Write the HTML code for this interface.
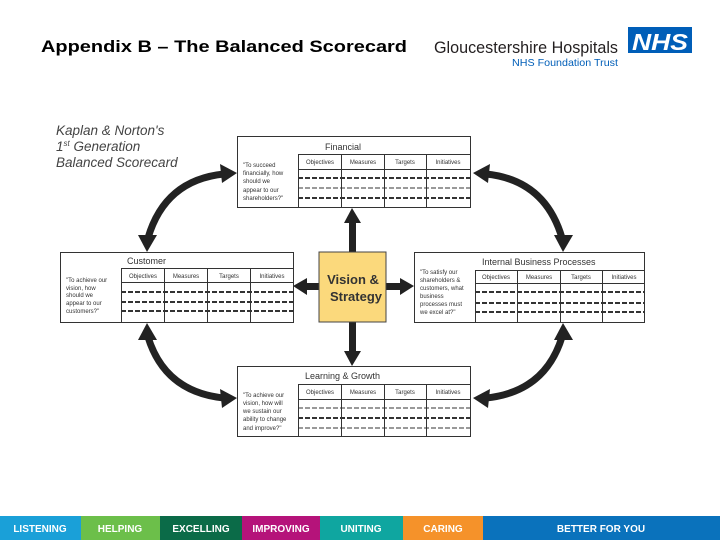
<!DOCTYPE html>
<html><head><meta charset="utf-8"><style>
html,body{margin:0;padding:0;background:#fff}
svg{display:block}
text{font-family:"Liberation Sans",Arial,sans-serif}
</style></head><body>
<svg width="720" height="540" viewBox="0 0 720 540" xmlns="http://www.w3.org/2000/svg">
<rect width="720" height="540" fill="#fff"/>
<text x="41" y="52" font-size="17" font-weight="bold" textLength="366" lengthAdjust="spacingAndGlyphs">Appendix B – The Balanced Scorecard</text>
<text x="434" y="53" font-size="17" fill="#231f20" textLength="184" lengthAdjust="spacingAndGlyphs">Gloucestershire Hospitals</text>
<text x="512" y="66" font-size="10.5" fill="#005eb8" textLength="106" lengthAdjust="spacingAndGlyphs">NHS Foundation Trust</text>
<rect x="628" y="27" width="64" height="26" fill="#005eb8"/>
<text x="660" y="50" font-size="23" font-weight="bold" font-style="italic" fill="#fff" text-anchor="middle" textLength="56" lengthAdjust="spacingAndGlyphs">NHS</text>

<g font-style="italic" font-size="13.5" fill="#444">
<text x="56" y="135">Kaplan &amp; Norton's</text>
<text x="56" y="151">1<tspan font-size="8" dy="-5">st</tspan><tspan dy="5"> Generation</tspan></text>
<text x="56" y="167">Balanced Scorecard</text>
</g>

<!-- curved arrows -->
<g fill="none" stroke="#222" stroke-width="7">
<path d="M224,174 Q165,180 148,238"/>
<path d="M486,174 Q545,180 562,238"/>
<path d="M148,337 Q165,392 224,398"/>
<path d="M562,337 Q545,392 486,398"/>
</g>
<g fill="#222">
<polygon points="237,173 220,164 222,183"/>
<polygon points="147,252 138,235 157,235"/>
<polygon points="473,173 490,164 488,183"/>
<polygon points="563,252 554,235 573,235"/>
<polygon points="147,323 138,340 157,340"/>
<polygon points="237,398 220,389 222,408"/>
<polygon points="563,323 554,340 573,340"/>
<polygon points="473,398 490,389 488,408"/>
</g>
<!-- central arrows -->
<g fill="#222">
<rect x="349" y="222" width="7" height="30"/>
<polygon points="352,208 344,223 361,223"/>
<rect x="349" y="322" width="7" height="30"/>
<polygon points="352,366 344,351 361,351"/>
<rect x="306" y="283" width="13" height="7"/>
<polygon points="293,286 307,278 307,295"/>
<rect x="386" y="283" width="14" height="7"/>
<polygon points="414,286 400,278 400,295"/>
</g>
<rect x="319" y="252" width="67" height="70" fill="#fbd97c" stroke="#444" stroke-width="1"/>
<text x="353" y="284" font-size="13" font-weight="bold" fill="#333" text-anchor="middle">Vision &amp;</text>
<text x="356" y="301" font-size="13" font-weight="bold" fill="#333" text-anchor="middle">Strategy</text>

<!-- Financial -->
<g stroke="#333" fill="none">
<rect x="237.5" y="136.5" width="233" height="71" fill="#fff"/>
<line x1="298" y1="154.5" x2="470" y2="154.5"/><line x1="298" y1="169.5" x2="470" y2="169.5"/>
<line x1="298.5" y1="154" x2="298.5" y2="208"/><line x1="341.5" y1="154" x2="341.5" y2="208"/><line x1="384.5" y1="154" x2="384.5" y2="208"/><line x1="426.5" y1="154" x2="426.5" y2="208"/>
<line x1="298" y1="178" x2="470" y2="178" stroke-width="2" stroke-dasharray="5,2"/>
<line x1="298" y1="188" x2="470" y2="188" stroke-dasharray="5,2"/>
<line x1="298" y1="198" x2="470" y2="198" stroke-width="2" stroke-dasharray="5,2"/>
</g>
<text x="325" y="150" font-size="9" fill="#333">Financial</text>
<g font-size="6" fill="#333" text-anchor="middle"><text x="320" y="164">Objectives</text><text x="363" y="164">Measures</text><text x="405" y="164">Targets</text><text x="448" y="164">Initiatives</text></g>
<g font-size="6" fill="#333"><text x="243" y="167">"To succeed</text><text x="243" y="175">financially, how</text><text x="243" y="183">should we</text><text x="243" y="192">appear to our</text><text x="243" y="200">shareholders?"</text></g>

<!-- Customer -->
<g stroke="#333" fill="none">
<rect x="60.5" y="252.5" width="233" height="70" fill="#fff"/>
<line x1="121" y1="268.5" x2="293" y2="268.5"/><line x1="121" y1="282.5" x2="293" y2="282.5"/>
<line x1="121.5" y1="268" x2="121.5" y2="323"/><line x1="164.5" y1="268" x2="164.5" y2="323"/><line x1="207.5" y1="268" x2="207.5" y2="323"/><line x1="250.5" y1="268" x2="250.5" y2="323"/>
<line x1="121" y1="292" x2="293" y2="292" stroke-width="2" stroke-dasharray="5,2"/>
<line x1="121" y1="302" x2="293" y2="302" stroke-width="2" stroke-dasharray="5,2"/>
<line x1="121" y1="311" x2="293" y2="311" stroke-width="2" stroke-dasharray="5,2"/>
</g>
<text x="127" y="264" font-size="9" fill="#333">Customer</text>
<g font-size="6" fill="#333" text-anchor="middle"><text x="143" y="278">Objectives</text><text x="186" y="278">Measures</text><text x="229" y="278">Targets</text><text x="272" y="278">Initiatives</text></g>
<g font-size="6" fill="#333"><text x="66" y="282">"To achieve our</text><text x="66" y="290">vision, how</text><text x="66" y="297">should we</text><text x="66" y="305">appear to our</text><text x="66" y="313">customers?"</text></g>

<!-- Internal -->
<g stroke="#333" fill="none">
<rect x="414.5" y="252.5" width="230" height="70" fill="#fff"/>
<line x1="475" y1="270.5" x2="645" y2="270.5"/><line x1="475" y1="283.5" x2="645" y2="283.5"/>
<line x1="475.5" y1="270" x2="475.5" y2="323"/><line x1="517.5" y1="270" x2="517.5" y2="323"/><line x1="560.5" y1="270" x2="560.5" y2="323"/><line x1="602.5" y1="270" x2="602.5" y2="323"/>
<line x1="475" y1="292" x2="645" y2="292" stroke-width="2" stroke-dasharray="5,2"/>
<line x1="475" y1="303" x2="645" y2="303" stroke-width="2" stroke-dasharray="5,2"/>
<line x1="475" y1="312" x2="645" y2="312" stroke-width="2" stroke-dasharray="5,2"/>
</g>
<text x="482" y="265" font-size="9" fill="#333">Internal Business Processes</text>
<g font-size="6" fill="#333" text-anchor="middle"><text x="496" y="279">Objectives</text><text x="539" y="279">Measures</text><text x="581" y="279">Targets</text><text x="624" y="279">Initiatives</text></g>
<g font-size="6" fill="#333"><text x="420" y="274">"To satisfy our</text><text x="420" y="282">shareholders &amp;</text><text x="420" y="290">customers, what</text><text x="420" y="298">business</text><text x="420" y="306">processes must</text><text x="420" y="314">we excel at?"</text></g>

<!-- Learning -->
<g stroke="#333" fill="none">
<rect x="237.5" y="366.5" width="233" height="70" fill="#fff"/>
<line x1="298" y1="384.5" x2="470" y2="384.5"/><line x1="298" y1="399.5" x2="470" y2="399.5"/>
<line x1="298.5" y1="384" x2="298.5" y2="437"/><line x1="341.5" y1="384" x2="341.5" y2="437"/><line x1="384.5" y1="384" x2="384.5" y2="437"/><line x1="426.5" y1="384" x2="426.5" y2="437"/>
<line x1="298" y1="408" x2="470" y2="408" stroke-dasharray="5,2"/>
<line x1="298" y1="418" x2="470" y2="418" stroke-width="2" stroke-dasharray="5,2"/>
<line x1="298" y1="428" x2="470" y2="428" stroke-dasharray="5,2"/>
</g>
<text x="305" y="379" font-size="9" fill="#333">Learning &amp; Growth</text>
<g font-size="6" fill="#333" text-anchor="middle"><text x="320" y="394">Objectives</text><text x="363" y="394">Measures</text><text x="405" y="394">Targets</text><text x="448" y="394">Initiatives</text></g>
<g font-size="6" fill="#333"><text x="243" y="397">"To achieve our</text><text x="243" y="405">vision, how will</text><text x="243" y="413">we sustain our</text><text x="243" y="421">ability to change</text><text x="243" y="430">and improve?"</text></g>

<!-- footer -->
<g font-size="10" font-weight="bold" text-anchor="middle">
<rect x="0" y="516" width="81" height="24" fill="#1aa0d8"/><text x="40" y="532" fill="#fff">LISTENING</text>
<rect x="81" y="516" width="79" height="24" fill="#6cbf4a"/><text x="120" y="532" fill="#fff">HELPING</text>
<rect x="160" y="516" width="82" height="24" fill="#0b6b48"/><text x="201" y="532" fill="#fff">EXCELLING</text>
<rect x="242" y="516" width="78" height="24" fill="#b5137a"/><text x="281" y="532" fill="#fff">IMPROVING</text>
<rect x="320" y="516" width="83" height="24" fill="#0fa6a0"/><text x="361" y="532" fill="#fff">UNITING</text>
<rect x="403" y="516" width="80" height="24" fill="#f5922a"/><text x="443" y="532" fill="#fff">CARING</text>
<rect x="483" y="516" width="237" height="24" fill="#0a72bc"/><text x="601" y="532" fill="#fff">BETTER FOR YOU</text>
</g>
</svg>
</body></html>
